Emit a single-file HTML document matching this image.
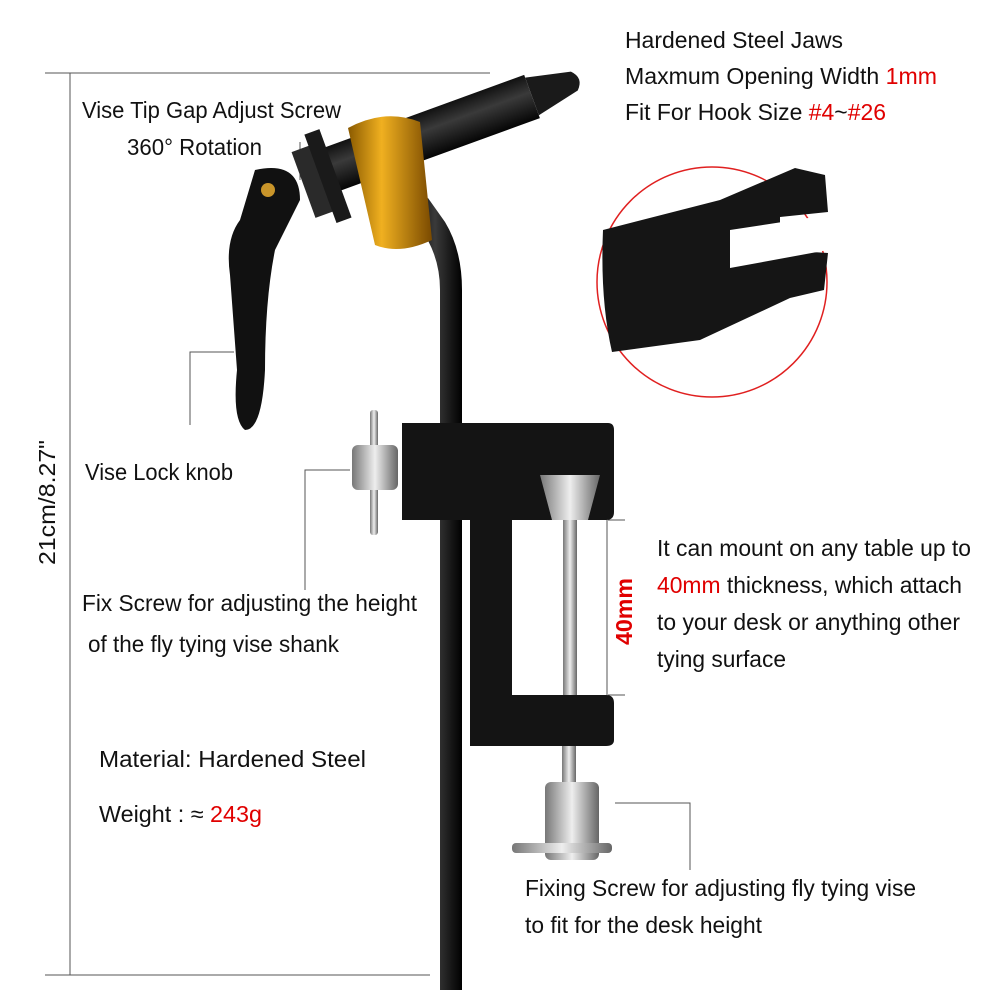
<!DOCTYPE html>
<html><head><meta charset="utf-8"><style>
html,body{margin:0;padding:0;background:#fff;}
svg{display:block}
text{font-family:"Liberation Sans",sans-serif;font-size:23px;fill:#111;}
.r{fill:#e00000}
</style></head><body>
<svg width="1000" height="1000" viewBox="0 0 1000 1000">
<defs>
<linearGradient id="gold" x1="0" x2="1"><stop offset="0" stop-color="#8a5a00"/><stop offset=".4" stop-color="#f0b020"/><stop offset="1" stop-color="#7a4a00"/></linearGradient>
<linearGradient id="blk" x1="0" x2="1"><stop offset="0" stop-color="#000"/><stop offset=".5" stop-color="#3a3a3a"/><stop offset="1" stop-color="#000"/></linearGradient>
<linearGradient id="blkv" x1="0" x2="0" y1="0" y2="1"><stop offset="0" stop-color="#111"/><stop offset=".4" stop-color="#3a3a3a"/><stop offset="1" stop-color="#050505"/></linearGradient>
<linearGradient id="sil" x1="0" x2="1"><stop offset="0" stop-color="#777"/><stop offset=".5" stop-color="#eee"/><stop offset="1" stop-color="#666"/></linearGradient>
</defs>
<g stroke="#555" stroke-width="1" fill="none">
<line x1="45" y1="73" x2="490" y2="73"/>
<line x1="45" y1="975" x2="430" y2="975"/>
<line x1="70" y1="73" x2="70" y2="975"/>
<polyline points="300,142 300,180"/>
<polyline points="234,352 190,352 190,425"/>
<polyline points="350,470 305,470 305,590"/>
<polyline points="608,520 625,520"/>
<line x1="607" y1="520" x2="607" y2="695"/>
<polyline points="608,695 625,695"/>
<polyline points="615,803 690,803 690,870"/>
</g>
<text transform="translate(55,565) rotate(-90)" textLength="125" lengthAdjust="spacingAndGlyphs">21cm/8.27"</text>
<!-- rod -->
<path d="M440,990 L440,290 Q440,255 420,228 L408,212 L428,198 L445,222 Q462,250 462,290 L462,990 Z" fill="url(#blk)"/>
<!-- barrel -->
<g transform="rotate(-20 330 170)">
<rect x="330" y="147" width="215" height="46" fill="url(#blkv)"/>
<path d="M545,150 L590,160 Q600,170 590,180 L545,190 Z" fill="#1a1a1a"/>
<rect x="300" y="140" width="22" height="70" fill="#2a2a2a"/>
<rect x="318" y="128" width="16" height="94" fill="#1a1a1a"/>
</g>
<!-- gold block -->
<path d="M348,128 Q385,108 420,122 L432,240 Q400,255 375,245 Z" fill="url(#gold)"/>
<!-- lever -->
<path d="M255,170 Q300,160 300,200 L275,250 Q265,300 265,370 Q262,430 245,430 Q232,420 237,370 L230,275 Q225,240 240,220 Z" fill="#111"/>
<circle cx="268" cy="190" r="7" fill="#c9952a"/>
<!-- clamp -->
<path d="M402,423 L608,423 Q614,423 614,430 L614,512 Q614,520 606,520 L512,520 L512,695 L606,695 Q614,695 614,703 L614,740 Q614,746 606,746 L470,746 L470,520 L402,520 Z" fill="#141414"/>
<rect x="563" y="520" width="14" height="175" fill="url(#sil)"/>
<path d="M540,475 L600,475 L588,520 L552,520 Z" fill="url(#sil)"/>
<rect x="562" y="746" width="14" height="40" fill="url(#sil)"/>
<rect x="545" y="782" width="54" height="78" rx="6" fill="url(#sil)"/>
<rect x="512" y="843" width="100" height="10" rx="4" fill="url(#sil)"/>
<rect x="370" y="410" width="8" height="125" rx="3" fill="url(#sil)"/>
<rect x="352" y="445" width="46" height="45" rx="6" fill="url(#sil)"/>
<!-- jaw circle -->
<circle cx="712" cy="282" r="115" fill="#fff" stroke="#e02020" stroke-width="1.5"/>
<path d="M603,230 L720,200 L795,168 L825,175 L828,212 L780,217 L780,250 L828,253 L824,290 L790,298 L700,340 L612,352 Q600,300 603,230 Z" fill="#151515"/>
<path d="M730,230 L828,215 L828,250 L730,268 Z" fill="#fff"/>
<!-- texts -->
<text x="625" y="48" textLength="218" lengthAdjust="spacingAndGlyphs">Hardened Steel Jaws</text>
<text x="625" y="84" textLength="312" lengthAdjust="spacingAndGlyphs">Maxmum Opening Width <tspan class="r">1mm</tspan></text>
<text x="625" y="120" textLength="261" lengthAdjust="spacingAndGlyphs">Fit For Hook Size <tspan class="r">#4</tspan>~<tspan class="r">#26</tspan></text>
<text x="82" y="118" textLength="259" lengthAdjust="spacingAndGlyphs">Vise Tip Gap Adjust Screw</text>
<text x="127" y="155" textLength="135" lengthAdjust="spacingAndGlyphs">360° Rotation</text>
<text x="85" y="480" textLength="148" lengthAdjust="spacingAndGlyphs">Vise Lock knob</text>
<text x="82" y="611" textLength="335" lengthAdjust="spacingAndGlyphs">Fix Screw for adjusting the height</text>
<text x="88" y="652" textLength="251" lengthAdjust="spacingAndGlyphs">of the fly tying vise shank</text>
<text x="99" y="767" textLength="267" lengthAdjust="spacingAndGlyphs">Material: Hardened Steel</text>
<text x="99" y="822" textLength="163" lengthAdjust="spacingAndGlyphs">Weight : ≈ <tspan class="r">243g</tspan></text>
<text x="657" y="556" textLength="314" lengthAdjust="spacingAndGlyphs">It can mount on any table up to</text>
<text x="657" y="593" textLength="305" lengthAdjust="spacingAndGlyphs"><tspan class="r">40mm</tspan> thickness, which attach</text>
<text x="657" y="630" textLength="303" lengthAdjust="spacingAndGlyphs">to your desk or anything other</text>
<text x="657" y="667" textLength="129" lengthAdjust="spacingAndGlyphs">tying surface</text>
<text class="r" transform="translate(632,645) rotate(-90)" style="font-weight:bold" textLength="67" lengthAdjust="spacingAndGlyphs">40mm</text>
<text x="525" y="896" textLength="391" lengthAdjust="spacingAndGlyphs">Fixing Screw for adjusting fly tying vise</text>
<text x="525" y="933" textLength="237" lengthAdjust="spacingAndGlyphs">to fit for the desk height</text>
</svg>
</body></html>
